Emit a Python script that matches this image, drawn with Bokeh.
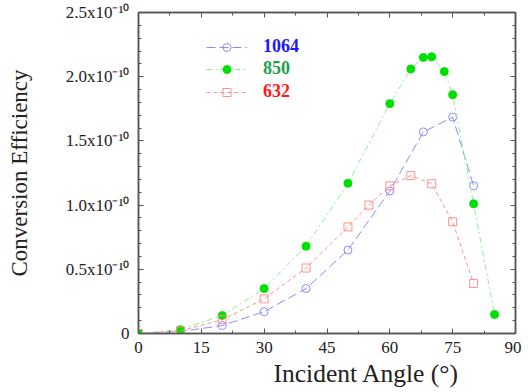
from bokeh.plotting import figure
from bokeh.models import FixedTicker, LinearAxis, Range1d, Legend, LegendItem, Title
from bokeh.embed import file_html
from bokeh.resources import INLINE

# Data (conversion efficiency in units of 1e-10)
angle_1064 = [0, 10, 20, 30, 40, 50, 60, 68, 75, 80]
eff_1064 = [0.0, 0.015, 0.062, 0.17, 0.35, 0.65, 1.11, 1.57, 1.685, 1.15]

angle_850 = [0, 10, 20, 30, 40, 50, 60, 65, 68, 70, 73, 75, 80, 85]
eff_850 = [0.0, 0.03, 0.14, 0.35, 0.68, 1.17, 1.79, 2.06, 2.15, 2.155, 2.04, 1.86, 1.01, 0.148]

angle_632 = [0, 10, 20, 30, 40, 50, 55, 60, 65, 70, 75, 80]
eff_632 = [0.0, 0.02, 0.107, 0.27, 0.51, 0.83, 1.00, 1.15, 1.23, 1.166, 0.87, 0.39]

x_ticks = [0, 15, 30, 45, 60, 75, 90]
x_minor = [7.5, 22.5, 37.5, 52.5, 67.5, 82.5]
y_ticks = [0, 0.5, 1.0, 1.5, 2.0, 2.5]
y_tick_labels = ["0", "0.5x10\u207b\u00b9\u2070", "1.0x10\u207b\u00b9\u2070", "1.5x10\u207b\u00b9\u2070",
                 "2.0x10\u207b\u00b9\u2070", "2.5x10\u207b\u00b9\u2070"]
y_minor = [round(0.1 * i, 1) for i in range(26)]

FONT = "Liberation Serif"
FRAME = "#555555"

p = figure(frame_width=377, frame_height=321, output_backend="svg", toolbar_location=None,
           x_range=Range1d(0, 90), y_range=Range1d(0, 2.5),
           min_border_left=138, min_border_right=6, min_border_top=12, min_border_bottom=20)
p.background_fill_color = "white"
p.border_fill_color = "white"
p.grid.visible = False
p.outline_line_color = FRAME
p.outline_line_width = 1.5

# Series
c_blue = "#8c8cff"
c_green_line = "#8fef8f"
c_green = "#00e000"
c_red = "#ff8f8f"

l1 = p.line(angle_1064, eff_1064, line_color=c_blue, line_dash="9 4", line_width=1)
s1 = p.scatter(angle_1064, eff_1064, marker="circle", size=8, fill_color=None,
               line_color=c_blue, line_width=1)
l2 = p.line(angle_850, eff_850, line_color=c_green_line, line_dash="6 3 2 3", line_width=1)
s2 = p.scatter(angle_850, eff_850, marker="circle", size=8, fill_color=c_green,
               line_color=c_green)
l3 = p.line(angle_632, eff_632, line_color=c_red, line_dash="4 3", line_width=1)
s3 = p.scatter(angle_632, eff_632, marker="square", size=8, fill_color=None,
               line_color=c_red, line_width=1)

# Axes
def style_axis(ax, labels=True):
    ax.axis_line_color = FRAME
    ax.axis_line_width = 1.5
    ax.major_tick_line_color = FRAME
    ax.minor_tick_line_color = FRAME
    ax.major_tick_in = 5
    ax.major_tick_out = 0
    ax.minor_tick_in = 3
    ax.minor_tick_out = 0
    ax.major_label_text_font = FONT
    if labels:
        ax.major_label_text_font_size = "17px"
        ax.major_label_text_color = "#222222"
    else:
        ax.major_label_text_font_size = "1px"
        ax.major_label_text_color = None
        ax.major_label_standoff = 0
    ax.axis_label_text_font = FONT
    ax.axis_label_text_font_size = "23px"
    ax.axis_label_text_font_style = "normal"
    ax.axis_label_text_color = "#222222"

p.xaxis.ticker = FixedTicker(ticks=x_ticks, minor_ticks=x_minor)
p.yaxis.ticker = FixedTicker(ticks=y_ticks, minor_ticks=y_minor)
p.yaxis.axis_label = "Conversion Efficiency"
p.yaxis.major_label_overrides = {t: s for t, s in zip(y_ticks, y_tick_labels)}
style_axis(p.xaxis[0])
style_axis(p.yaxis[0])
p.xaxis.major_label_standoff = 8
p.yaxis.major_label_standoff = 9
p.yaxis.axis_label_standoff = 31

# x-axis title (placed right of centre, as in the original)
xt = Title(text="Incident Angle (\u00b0)", align="left", offset=135, standoff=3,
           text_font=FONT, text_font_size="25.5px", text_font_style="normal",
           text_color="#222222")
p.add_layout(xt, "below")

top = LinearAxis(ticker=FixedTicker(ticks=x_ticks, minor_ticks=x_minor))
style_axis(top, labels=False)
p.add_layout(top, "above")
right = LinearAxis(ticker=FixedTicker(ticks=y_ticks, minor_ticks=y_minor))
style_axis(right, labels=False)
p.add_layout(right, "right")

# Legends (one per entry so each label has its own colour)
entries = [("1064", [l1, s1], "#1a1aff", 276),
           ("850", [l2, s2], "#22a050", 254),
           ("632", [l3, s3], "#ff1a1a", 231)]
for label, rends, col, ypos in entries:
    lg = Legend(items=[LegendItem(label=label, renderers=rends)], location=(68, ypos))
    lg.label_text_font = FONT
    lg.label_text_font_style = "bold"
    lg.label_text_font_size = "18px"
    lg.label_text_color = col
    lg.glyph_width = 41
    lg.glyph_height = 20
    lg.label_height = 20
    lg.label_standoff = 16
    lg.padding = 0
    lg.margin = 0
    lg.spacing = 0
    lg.background_fill_alpha = 0
    lg.border_line_color = None
    p.add_layout(lg, "center")

open("out.html", "w").write(file_html(p, INLINE))
